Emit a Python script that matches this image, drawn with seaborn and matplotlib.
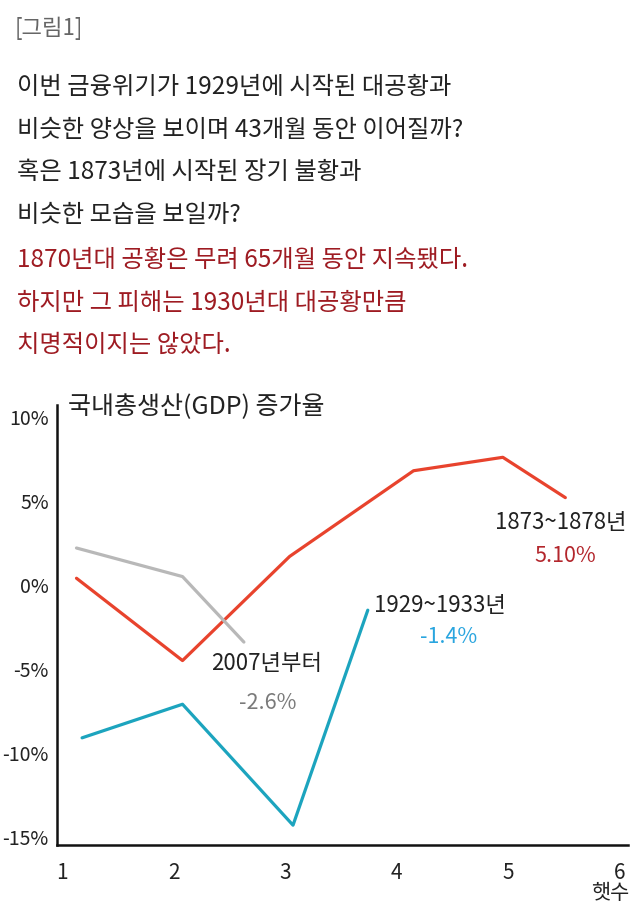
import numpy as np
import pandas as pd
import matplotlib
matplotlib.use("Agg")
import matplotlib.pyplot as plt
import seaborn as sns

# data (x = year count, y = GDP growth %)
red_x = [1.13, 2.08, 3.04, 4.15, 4.95, 5.51]
red_y = [0.4, -4.5, 1.7, 6.8, 7.6, 5.2]
gray_x = [1.13, 2.08, 2.63]
gray_y = [2.2, 0.5, -3.4]
blue_x = [1.18, 2.08, 3.07, 3.74]
blue_y = [-9.1, -7.1, -14.3, -1.5]

series_names = ["1873~1878년", "2007년부터", "1929~1933년"]
series_values = ["5.10%", "-2.6%", "-1.4%"]
y_ticks = [10, 5, 0, -5, -10, -15]
x_ticks = [1, 2, 3, 4, 5, 6]

intro_lines = [
    "이번 금융위기가 1929년에 시작된 대공황과",
    "비슷한 양상을 보이며 43개월 동안 이어질까?",
    "혹은 1873년에 시작된 장기 불황과",
    "비슷한 모습을 보일까?",
]
red_lines = [
    "1870년대 공황은 무려 65개월 동안 지속됐다.",
    "하지만 그 피해는 1930년대 대공황만큼",
    "치명적이지는 않았다.",
]

sns.set_theme(style="white")
plt.rcParams["font.family"] = ["Noto Sans CJK KR", "DejaVu Sans"]

LINE_COLORS = {series_names[0]: "#e8432d", series_names[1]: "#b8b8b8",
               series_names[2]: "#1ca4be"}
TEXT_COLORS = ["#b3262c", "#7a7a7a", "#29a5df"]
NARROW = ["Liberation Sans Narrow", "Noto Sans CJK KR", "DejaVu Sans"]

df = pd.concat([
    pd.DataFrame({"x": red_x, "y": red_y, "series": series_names[0]}),
    pd.DataFrame({"x": gray_x, "y": gray_y, "series": series_names[1]}),
    pd.DataFrame({"x": blue_x, "y": blue_y, "series": series_names[2]}),
])

fig = plt.figure(figsize=(6.4, 9.21), dpi=100)
ax = fig.add_axes([0.089, 0.0825, 0.892, 0.4777])

sns.lineplot(data=df, x="x", y="y", hue="series", palette=LINE_COLORS,
             sort=False, estimator=None, linewidth=2.3, legend=False, ax=ax)

ax.set_xlim(0.955, 6.07)
ax.set_ylim(-15.48, 10.71)
ax.set_xticks(x_ticks)
ax.set_yticks(y_ticks)
ax.set_xticklabels([str(v) for v in x_ticks], family=NARROW, fontsize=15)
ax.set_yticklabels([f"{v}%" for v in y_ticks], family=NARROW, fontsize=14)
ax.tick_params(axis="both", length=0, colors="#222222")
ax.tick_params(axis="y", pad=6)
ax.tick_params(axis="x", pad=12)
ax.set_xlabel("")
ax.set_ylabel("")
for side in ["top", "right"]:
    ax.spines[side].set_visible(False)
for side in ["left", "bottom"]:
    ax.spines[side].set_color("#111111")
    ax.spines[side].set_linewidth(1.8)

ax.text(0.02, 0.995, "국내총생산(GDP) 증가율", transform=ax.transAxes,
        fontsize=18, color="#222222", va="center", ha="left")

# series labels next to the line ends
ax.text(5.47, 3.7, series_names[0], fontsize=16, color="#222222", ha="center", va="center")
ax.text(5.51, 1.7, series_values[0], fontsize=15.5, color=TEXT_COLORS[0], ha="center",
        va="center", family=NARROW)
ax.text(2.83, -4.7, series_names[1], fontsize=16, color="#222222", ha="center", va="center")
ax.text(2.84, -7.0, series_values[1], fontsize=15.5, color=TEXT_COLORS[1], ha="center",
        va="center", family=NARROW)
ax.text(4.39, -1.2, series_names[2], fontsize=16, color="#222222", ha="center", va="center")
ax.text(4.46, -3.1, series_values[2], fontsize=15.5, color=TEXT_COLORS[2], ha="center",
        va="center", family=NARROW)

fig.text(0.983, (921 - 893) / 921, "햇수", fontsize=15, color="#222222",
         ha="right", va="center")

# header text above the chart
fig.text(15 / 640, 1 - 28 / 921, "[그림1]", fontsize=16, color="#666666", va="center")
for i, line in enumerate(intro_lines):
    fig.text(17 / 640, 1 - (87 + 42.5 * i) / 921, line, fontsize=17.5,
             color="#222222", va="center")
for i, line in enumerate(red_lines):
    fig.text(17 / 640, 1 - (260 + 42.5 * i) / 921, line, fontsize=17.5,
             color="#9e1b22", va="center")

fig.savefig("out.png", dpi=100)
